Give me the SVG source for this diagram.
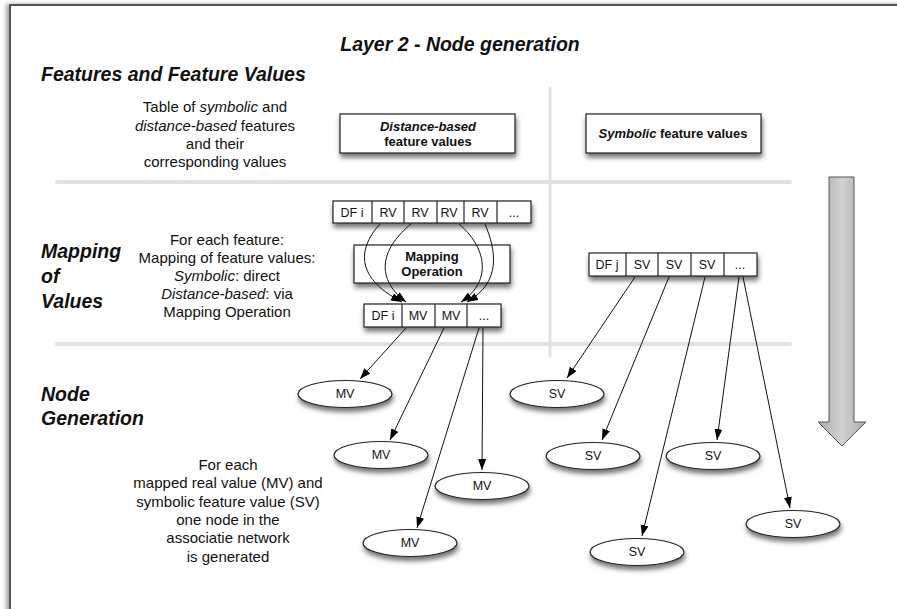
<svg xmlns="http://www.w3.org/2000/svg" width="897" height="609" viewBox="0 0 897 609">
<defs>
<style>
text{font-family:"Liberation Sans",Arial,sans-serif;fill:#111}
.h{font-size:19.5px;font-weight:bold;font-style:italic}
.t{font-size:15px;text-anchor:middle}
.c{font-size:12.5px;text-anchor:middle}
.e{font-size:12.5px;text-anchor:middle}
.b{font-size:13px;font-weight:bold;text-anchor:middle}
.box{fill:#fff;stroke:#222;stroke-width:1.2}
.sep{stroke:#e2e2e2;stroke-width:4;stroke-linecap:round;fill:none}
.con{fill:none;stroke:#111;stroke-width:1;marker-end:url(#ah)}
</style>
<filter id="sh" x="-20%" y="-30%" width="140%" height="190%">
<feDropShadow dx="1" dy="4" stdDeviation="2.5" flood-color="#000" flood-opacity="0.55"/>
</filter>
<filter id="fsh" x="-5%" y="-5%" width="110%" height="110%">
<feDropShadow dx="-3" dy="0" stdDeviation="2" flood-color="#000" flood-opacity="0.35"/>
</filter>
<linearGradient id="ag" x1="0" y1="0" x2="1" y2="0">
<stop offset="0" stop-color="#a9a9a9"/>
<stop offset="0.5" stop-color="#d2d2d2"/>
<stop offset="1" stop-color="#a9a9a9"/>
</linearGradient>
<marker id="ah" markerUnits="userSpaceOnUse" markerWidth="12" markerHeight="10" refX="11" refY="4" orient="auto">
<path d="M0,0 L11,4 L0,8 Z" fill="#000"/>
</marker>
</defs>
<rect width="897" height="609" fill="#fff"/>
<rect x="10" y="5" width="900" height="620" fill="#fff" stroke="#555" stroke-width="2" filter="url(#fsh)"/>

<g id="title"><text x="460" y="51" font-size="19.5" font-weight="bold" font-style="italic" text-anchor="middle">Layer 2 - Node generation</text></g>

<g id="separators">
<line class="sep" x1="57" y1="182" x2="790" y2="182"/>
<line class="sep" x1="57" y1="344" x2="790" y2="344"/>
<line x1="550" y1="88" x2="550" y2="356" stroke="#e2e2e2" stroke-width="3" stroke-linecap="round"/>
</g>

<g id="big-arrow"><polygon points="829,177 854,177 854,422 866,422 842,446 818,422 829,422" fill="url(#ag)" stroke="#555" stroke-width="1"/></g>

<g id="section-features">
<text class="h" x="41" y="81">Features and Feature Values</text>
<text class="t" x="215" y="112">Table of <tspan font-style="italic">symbolic</tspan> and</text>
<text class="t" x="215" y="131"><tspan font-style="italic">distance-based</tspan> features</text>
<text class="t" x="215" y="149">and their</text>
<text class="t" x="215" y="167">corresponding values</text>
</g>

<g id="distance-box">
<rect class="box" x="340" y="114" width="175" height="39" filter="url(#sh)"/>
<text class="b" x="428" y="131" font-style="italic">Distance-based</text>
<text class="b" x="428" y="146">feature values</text>
</g>

<g id="symbolic-box">
<rect class="box" x="586" y="114" width="175" height="39" filter="url(#sh)"/>
<text class="b" x="673" y="138"><tspan font-style="italic">Symbolic</tspan> feature values</text>
</g>

<g id="section-mapping">
<text class="h" x="41" y="258">Mapping</text>
<text class="h" x="41" y="283">of</text>
<text class="h" x="41" y="308">Values</text>
<text class="t" x="227" y="245">For each feature:</text>
<text class="t" x="227" y="263">Mapping of feature values:</text>
<text class="t" x="227" y="281"><tspan font-style="italic">Symbolic</tspan>: direct</text>
<text class="t" x="227" y="299"><tspan font-style="italic">Distance-based</tspan>: via</text>
<text class="t" x="227" y="317">Mapping Operation</text>
</g>

<g id="rv-table">
<rect class="box" x="333" y="201" width="198" height="22" filter="url(#sh)"/>
<g stroke="#222" stroke-width="1.2">
<line x1="372" y1="201" x2="372" y2="223"/><line x1="404" y1="201" x2="404" y2="223"/>
<line x1="437" y1="201" x2="437" y2="223"/><line x1="464" y1="201" x2="464" y2="223"/>
<line x1="497" y1="201" x2="497" y2="223"/>
</g>
<text class="c" x="352" y="216.5">DF i</text>
<text class="c" x="388" y="216.5">RV</text>
<text class="c" x="420" y="216.5">RV</text>
<text class="c" x="449" y="216.5">RV</text>
<text class="c" x="480" y="216.5">RV</text>
<text class="c" x="514" y="216.5">...</text>
</g>

<g id="mapping-operation">
<rect class="box" x="354" y="245" width="156" height="38" filter="url(#sh)"/>
<text class="b" x="432" y="261">Mapping</text>
<text class="b" x="432" y="276">Operation</text>
</g>

<g id="mv-table">
<rect class="box" x="364" y="304" width="137" height="23" filter="url(#sh)"/>
<g stroke="#222" stroke-width="1.2">
<line x1="402" y1="304" x2="402" y2="327"/><line x1="435" y1="304" x2="435" y2="327"/>
<line x1="467" y1="304" x2="467" y2="327"/>
</g>
<text class="c" x="383" y="320">DF i</text>
<text class="c" x="418" y="320">MV</text>
<text class="c" x="451" y="320">MV</text>
<text class="c" x="484" y="320">...</text>
</g>

<g id="sv-table">
<rect class="box" x="589" y="253" width="168" height="23" filter="url(#sh)"/>
<g stroke="#222" stroke-width="1.2">
<line x1="626" y1="253" x2="626" y2="276"/><line x1="658" y1="253" x2="658" y2="276"/>
<line x1="691" y1="253" x2="691" y2="276"/><line x1="724" y1="253" x2="724" y2="276"/>
</g>
<text class="c" x="607" y="269">DF j</text>
<text class="c" x="642" y="269">SV</text>
<text class="c" x="674" y="269">SV</text>
<text class="c" x="707" y="269">SV</text>
<text class="c" x="740" y="269">...</text>
</g>

<g id="section-nodes">
<text class="h" x="41" y="401">Node</text>
<text class="h" x="41" y="425">Generation</text>
<text class="t" x="228" y="470">For each</text>
<text class="t" x="228" y="488">mapped real value (MV) and</text>
<text class="t" x="228" y="507">symbolic feature value (SV)</text>
<text class="t" x="228" y="525">one node in the</text>
<text class="t" x="228" y="543">associatie network</text>
<text class="t" x="228" y="562">is generated</text>
</g>

<g id="mv1"><ellipse class="box" cx="345" cy="394" rx="47" ry="13.5" filter="url(#sh)"/><text class="e" x="345" y="398">MV</text></g>
<g id="mv2"><ellipse class="box" cx="381" cy="455" rx="47" ry="13.5" filter="url(#sh)"/><text class="e" x="381" y="459">MV</text></g>
<g id="mv3"><ellipse class="box" cx="482" cy="486" rx="47" ry="13.5" filter="url(#sh)"/><text class="e" x="482" y="490">MV</text></g>
<g id="mv4"><ellipse class="box" cx="410" cy="543" rx="47" ry="13.5" filter="url(#sh)"/><text class="e" x="410" y="547">MV</text></g>
<g id="sv1"><ellipse class="box" cx="557" cy="394" rx="47" ry="13.5" filter="url(#sh)"/><text class="e" x="557" y="398">SV</text></g>
<g id="sv2"><ellipse class="box" cx="593" cy="456" rx="47" ry="13.5" filter="url(#sh)"/><text class="e" x="593" y="460">SV</text></g>
<g id="sv3"><ellipse class="box" cx="713" cy="456" rx="47" ry="13.5" filter="url(#sh)"/><text class="e" x="713" y="460">SV</text></g>
<g id="sv4"><ellipse class="box" cx="793" cy="524" rx="47" ry="13.5" filter="url(#sh)"/><text class="e" x="793" y="528">SV</text></g>
<g id="sv5"><ellipse class="box" cx="637" cy="552" rx="47" ry="13.5" filter="url(#sh)"/><text class="e" x="637" y="556">SV</text></g>

<g id="connectors">
<path class="con" d="M380,224 C360,246 352,276 402,302"/>
<path class="con" d="M411,224 C384,246 372,276 406,302"/>
<path class="con" d="M459,224 C485,246 494,280 461,302"/>
<path class="con" d="M485,224 C496,250 502,282 467,302"/>
<path class="con" d="M406,328 L360,379"/>
<path class="con" d="M444,328 L390,440"/>
<path class="con" d="M479,328 L417,528"/>
<path class="con" d="M483,328 L482,470"/>
<path class="con" d="M635,277 L567,378"/>
<path class="con" d="M669,277 L602,440"/>
<path class="con" d="M705,277 L642,536"/>
<path class="con" d="M739,277 L717,440"/>
<path class="con" d="M743,277 L790,508"/>
</g>
</svg>
